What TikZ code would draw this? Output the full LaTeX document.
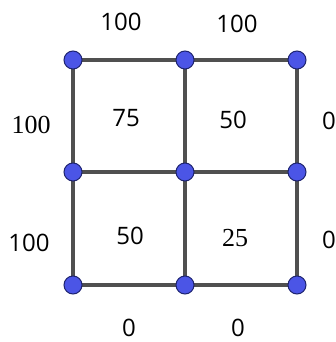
\documentclass[tikz,border=0pt]{standalone}
\usepackage{fontspec}
\setmainfont{Liberation Serif}
\newfontfamily\lblsans{Open Sans}
\definecolor{edgegray}{HTML}{505050}
\definecolor{dotblue}{HTML}{4B55E6}
\definecolor{dotrim}{HTML}{1E2470}
\tikzset{
  dot/.style={circle,fill=dotblue,draw=dotrim,line width=1pt,minimum size=18pt,inner sep=0pt},
  edge/.style={draw=edgegray,line width=4pt},
  lbl/.style={font=\lblsans\fontsize{24}{24}\selectfont,inner sep=0pt},
  lblserif/.style={font=\fontsize{26}{26}\selectfont,inner sep=0pt}
}
\begin{document}
\begin{tikzpicture}[x=1pt,y=-1pt]
\useasboundingbox (0,0) rectangle (335,342);
\coordinate (p11) at (73,60);
\coordinate (p12) at (185,60);
\coordinate (p13) at (297,60);
\coordinate (p21) at (73,172);
\coordinate (p22) at (185,172);
\coordinate (p23) at (297,172);
\coordinate (p31) at (73,285);
\coordinate (p32) at (185,285);
\coordinate (p33) at (297,285);
\draw[edge] (p11) -- (p12) -- (p13);
\draw[edge] (p21) -- (p22) -- (p23);
\draw[edge] (p31) -- (p32) -- (p33);
\draw[edge] (p11) -- (p21) -- (p31);
\draw[edge] (p12) -- (p22) -- (p32);
\draw[edge] (p13) -- (p23) -- (p33);
\foreach \n in {p11,p12,p13,p21,p22,p23,p31,p32,p33}
  \node[dot] (d\n) at (\n) {};
\node[lbl] (t1) at (121,22) {100};
\node[lbl] (t2) at (237,24) {100};
\node[lblserif] (l1) at (31,125) {100};
\node[lbl] (l2) at (29,243) {100};
\node[lbl] (c1) at (126,118) {75};
\node[lbl] (c2) at (233,120) {50};
\node[lbl] (c3) at (130,236) {50};
\node[lblserif] (c4) at (235,238) {25};
\node[lbl] (r1) at (329,121) {0};
\node[lbl] (r2) at (329,240) {0};
\node[lbl] (b1) at (129,328) {0};
\node[lbl] (b2) at (238,328) {0};
\end{tikzpicture}
\end{document}
